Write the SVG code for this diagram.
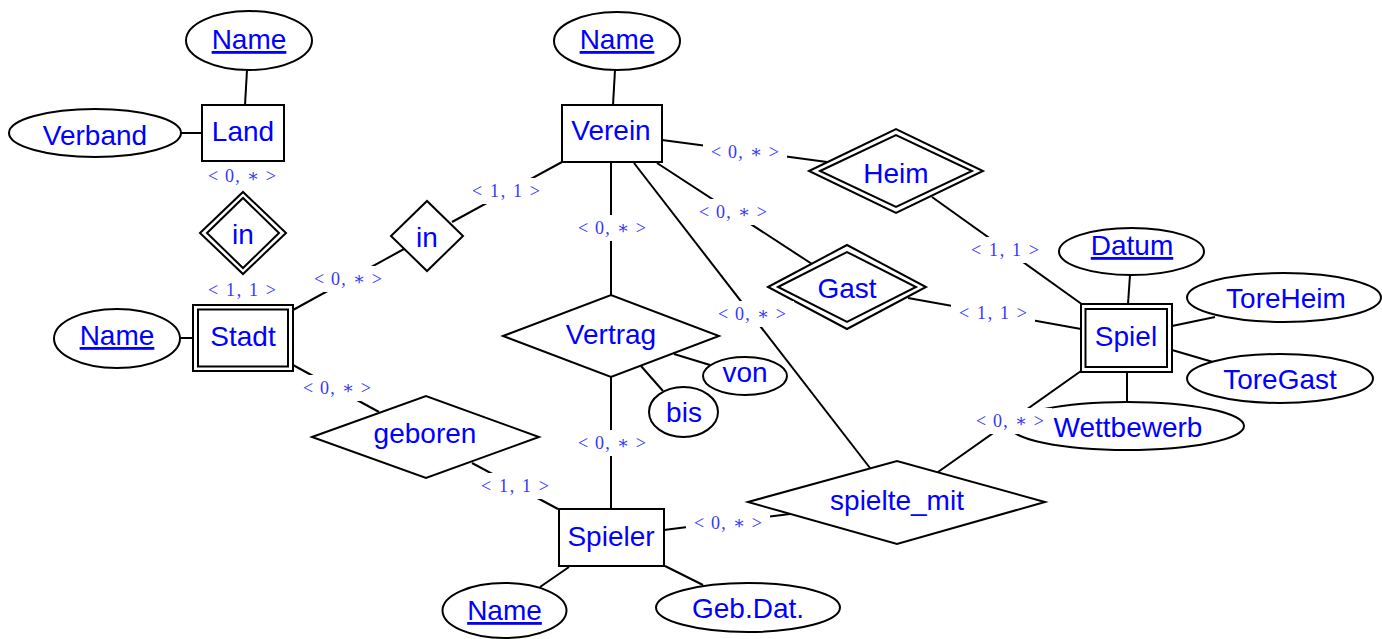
<svg xmlns="http://www.w3.org/2000/svg" width="1382" height="639" viewBox="0 0 1382 639">
<style>
.sh{fill:#fff;stroke:#000;stroke-width:2}
.cn line{stroke:#000;stroke-width:2}
.t{font-family:"Liberation Sans",Arial,sans-serif;font-size:28px;fill:#0000ff;text-anchor:middle}
.u{text-decoration:underline}
.lb rect{fill:#fff}
.lb text{font-family:"Liberation Serif","DejaVu Serif",serif;font-size:18px;fill:#3535ff;text-anchor:middle}
</style>
<rect width="1382" height="639" fill="#fff"/>
<g id="connectors" class="cn">
<line x1="247" y1="70" x2="245" y2="105"/>
<line x1="180" y1="133" x2="202" y2="133"/>
<line x1="180" y1="338" x2="193" y2="338"/>
<line x1="293" y1="310" x2="404" y2="249"/>
<line x1="452" y1="222" x2="562" y2="162"/>
<line x1="615" y1="70" x2="613" y2="105"/>
<line x1="662" y1="140" x2="827" y2="162"/>
<line x1="657" y1="163" x2="812" y2="264"/>
<line x1="611" y1="162" x2="611" y2="295"/>
<line x1="634" y1="163" x2="870" y2="468"/>
<line x1="932" y1="197" x2="1083" y2="305"/>
<line x1="908" y1="298" x2="1081" y2="329"/>
<line x1="1128" y1="304" x2="1130" y2="275"/>
<line x1="1172" y1="326" x2="1215" y2="317"/>
<line x1="1172" y1="350" x2="1213" y2="362"/>
<line x1="1127" y1="372" x2="1127" y2="402"/>
<line x1="938" y1="472" x2="1081" y2="371"/>
<line x1="674" y1="354" x2="710" y2="365"/>
<line x1="641" y1="366" x2="663" y2="391"/>
<line x1="611" y1="377" x2="611" y2="509"/>
<line x1="664" y1="530" x2="790" y2="514"/>
<line x1="293" y1="365" x2="379" y2="412"/>
<line x1="472" y1="463" x2="558" y2="509"/>
<line x1="569" y1="567" x2="540" y2="587"/>
<line x1="665" y1="566" x2="703" y2="585"/>
</g>
<g id="land-name"><ellipse class="sh" cx="249" cy="40.5" rx="63" ry="29.5"/><text class="t u" x="249" y="49">Name</text></g>
<g id="verband"><ellipse class="sh" cx="95" cy="133" rx="86" ry="24"/><text class="t" x="95" y="145">Verband</text></g>
<g id="land"><rect class="sh" x="202" y="105" width="82" height="56"/><text class="t" x="243" y="141">Land</text></g>
<g id="in-weak"><polygon class="sh" points="200,233 243,192 286,233 243,274"/><polygon class="sh" points="207,233 243,198 279,233 243,268"/><text class="t" x="243" y="244">in</text></g>
<g id="stadt-name"><ellipse class="sh" cx="117" cy="338.5" rx="63" ry="29.5"/><text class="t u" x="117" y="345">Name</text></g>
<g id="stadt"><rect class="sh" x="193" y="305" width="100" height="66"/><rect class="sh" x="198" y="309.5" width="90" height="57"/><text class="t" x="243" y="346">Stadt</text></g>
<g id="in"><polygon class="sh" points="391,236 427,201 463,236 427,271"/><text class="t" x="427" y="247">in</text></g>
<g id="verein-name"><ellipse class="sh" cx="617" cy="41" rx="63" ry="29"/><text class="t u" x="617" y="49">Name</text></g>
<g id="verein"><rect class="sh" x="562" y="105" width="100" height="57"/><text class="t" x="611" y="140">Verein</text></g>
<g id="heim"><polygon class="sh" points="809,171 896,129 983,171 896,213"/><polygon class="sh" points="820,171 896,135 972,171 896,207"/><text class="t" x="896" y="183">Heim</text></g>
<g id="gast"><polygon class="sh" points="768,287 847,245 926,287 847,329"/><polygon class="sh" points="778,287 847,252 916,287 847,322"/><text class="t" x="847" y="298">Gast</text></g>
<g id="vertrag"><polygon class="sh" points="503,336 611,295 719,336 611,377"/><text class="t" x="611" y="344">Vertrag</text></g>
<g id="von"><ellipse class="sh" cx="745" cy="376" rx="42" ry="19"/><text class="t" x="745" y="382">von</text></g>
<g id="bis"><ellipse class="sh" cx="683.5" cy="412" rx="34.5" ry="25"/><text class="t" x="684" y="422">bis</text></g>
<g id="datum"><ellipse class="sh" cx="1131.5" cy="251.5" rx="72.5" ry="23.5"/><text class="t u" x="1132" y="255">Datum</text></g>
<g id="toreheim"><ellipse class="sh" cx="1284" cy="297.5" rx="97" ry="24.5"/><text class="t" x="1286" y="308">ToreHeim</text></g>
<g id="toregast"><ellipse class="sh" cx="1280" cy="378.5" rx="93" ry="24.5"/><text class="t" x="1280" y="389">ToreGast</text></g>
<g id="wettbewerb"><ellipse class="sh" cx="1127" cy="426" rx="117" ry="24"/><text class="t" x="1128" y="437">Wettbewerb</text></g>
<g id="spiel"><rect class="sh" x="1081" y="304" width="91" height="68"/><rect class="sh" x="1085.5" y="309" width="81.5" height="58"/><text class="t" x="1126" y="346">Spiel</text></g>
<g id="spielte-mit"><polygon class="sh" points="748,502 897,461 1045,502 897,544"/><text class="t" x="897" y="510">spielte_mit</text></g>
<g id="geboren"><polygon class="sh" points="312,437 426,396 539,437 426,478"/><text class="t" x="425" y="443">geboren</text></g>
<g id="spieler"><rect class="sh" x="559" y="509" width="105" height="57"/><text class="t" x="611" y="546">Spieler</text></g>
<g id="spieler-name"><ellipse class="sh" cx="504.5" cy="610.5" rx="62" ry="27.5"/><text class="t u" x="504.5" y="620">Name</text></g>
<g id="gebdat"><ellipse class="sh" cx="748" cy="607.5" rx="92" ry="24.5"/><text class="t" x="748" y="618">Geb.Dat.</text></g>
<g id="labels" class="lb">
<rect x="200" y="163" width="84" height="26"/><text x="242" y="182" textLength="68" lengthAdjust="spacing">&lt; 0, ∗ &gt;</text>
<rect x="200" y="277" width="84" height="26"/><text x="242" y="296" textLength="68" lengthAdjust="spacing">&lt; 1, 1 &gt;</text>
<rect x="306" y="266" width="84" height="26"/><text x="348" y="285" textLength="68" lengthAdjust="spacing">&lt; 0, ∗ &gt;</text>
<rect x="464" y="178" width="84" height="26"/><text x="506" y="197" textLength="68" lengthAdjust="spacing">&lt; 1, 1 &gt;</text>
<rect x="703" y="139" width="84" height="26"/><text x="745" y="158" textLength="68" lengthAdjust="spacing">&lt; 0, ∗ &gt;</text>
<rect x="570" y="215" width="84" height="26"/><text x="612" y="234" textLength="68" lengthAdjust="spacing">&lt; 0, ∗ &gt;</text>
<rect x="691" y="199" width="84" height="26"/><text x="733" y="218" textLength="68" lengthAdjust="spacing">&lt; 0, ∗ &gt;</text>
<rect x="963" y="237" width="84" height="26"/><text x="1005" y="256" textLength="68" lengthAdjust="spacing">&lt; 1, 1 &gt;</text>
<rect x="951" y="300" width="84" height="26"/><text x="993" y="319" textLength="68" lengthAdjust="spacing">&lt; 1, 1 &gt;</text>
<rect x="710" y="301" width="84" height="26"/><text x="752" y="320" textLength="68" lengthAdjust="spacing">&lt; 0, ∗ &gt;</text>
<rect x="570" y="430" width="84" height="26"/><text x="612" y="449" textLength="68" lengthAdjust="spacing">&lt; 0, ∗ &gt;</text>
<rect x="295" y="375" width="84" height="26"/><text x="337" y="394" textLength="68" lengthAdjust="spacing">&lt; 0, ∗ &gt;</text>
<rect x="473" y="473" width="84" height="26"/><text x="515" y="492" textLength="68" lengthAdjust="spacing">&lt; 1, 1 &gt;</text>
<rect x="686" y="510" width="84" height="26"/><text x="728" y="529" textLength="68" lengthAdjust="spacing">&lt; 0, ∗ &gt;</text>
<rect x="968" y="408" width="84" height="26"/><text x="1010" y="427" textLength="68" lengthAdjust="spacing">&lt; 0, ∗ &gt;</text>
</g>
</svg>
